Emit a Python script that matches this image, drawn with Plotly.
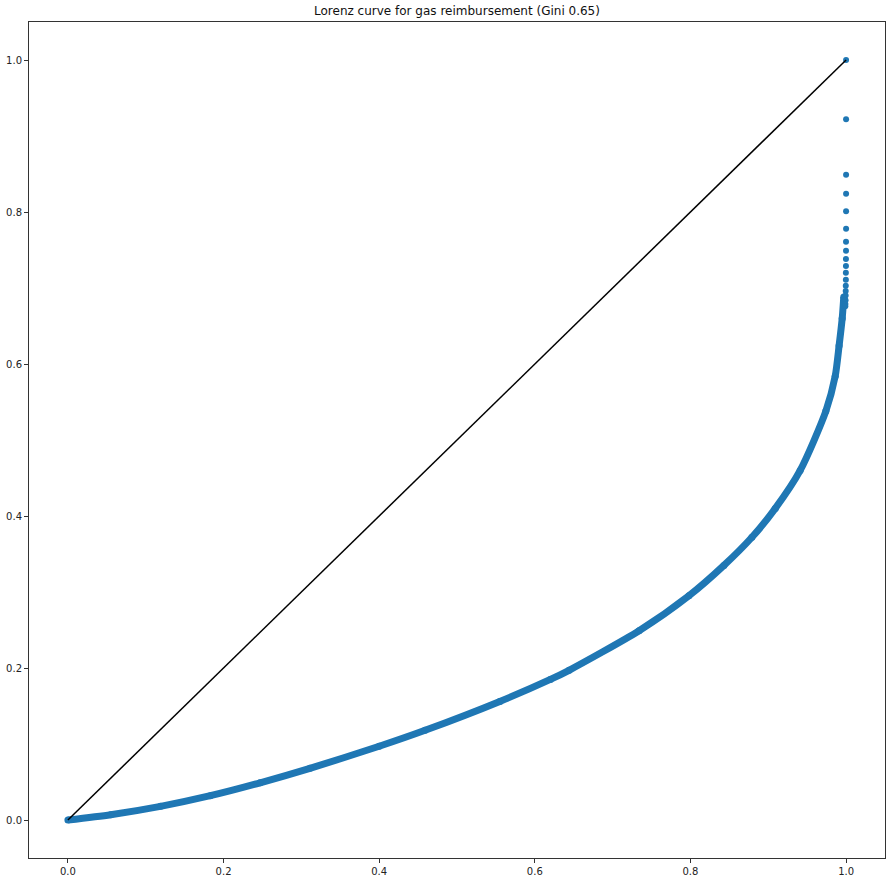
import plotly.graph_objects as go

# Lorenz curve (main dense body)
curve_x = [0.0, 0.055, 0.119, 0.183, 0.247, 0.311, 0.400, 0.459, 0.555, 0.620,
           0.644, 0.734, 0.798, 0.843, 0.879, 0.909, 0.941, 0.974, 0.986, 0.991,
           0.995, 0.997]
curve_y = [0.0, 0.007, 0.018, 0.032, 0.049, 0.068, 0.097, 0.118, 0.156, 0.185,
           0.197, 0.249, 0.295, 0.335, 0.372, 0.410, 0.460, 0.538, 0.584, 0.624,
           0.660, 0.688]

# Sparse top tail points near x = 1
tail_x = [1.0, 1.0, 1.0, 1.0, 1.0, 1.0, 0.9999, 0.9999, 0.9998, 0.9998,
          0.9997, 0.9997, 0.9996, 0.9995, 0.9994, 0.9993, 0.9991, 0.999]
tail_y = [1.0, 0.922, 0.849, 0.824, 0.801, 0.778, 0.761, 0.749, 0.738, 0.729,
          0.720, 0.711, 0.703, 0.696, 0.690, 0.684, 0.679, 0.676]

# Line of equality
eq_x = [0.0, 1.0]
eq_y = [0.0, 1.0]

title = "Lorenz curve for gas reimbursement (Gini 0.65)"
ticks = [0.0, 0.2, 0.4, 0.6, 0.8, 1.0]
tick_text = ["0.0", "0.2", "0.4", "0.6", "0.8", "1.0"]

blue = "#1f77b4"

fig = go.Figure()
fig.add_trace(go.Scatter(x=curve_x, y=curve_y, mode="lines+markers",
                         line=dict(color=blue, width=7, shape="spline", smoothing=0.7),
                         marker=dict(color=blue, size=7, line=dict(width=0)),
                         showlegend=False, hoverinfo="skip"))
fig.add_trace(go.Scatter(x=tail_x, y=tail_y, mode="markers",
                         marker=dict(color=blue, size=6, line=dict(width=0)),
                         showlegend=False))
fig.add_trace(go.Scatter(x=eq_x, y=eq_y, mode="lines",
                         line=dict(color="black", width=1.5),
                         showlegend=False))

axis_common = dict(range=[-0.05, 1.05], showgrid=False, zeroline=False,
                   showline=True, mirror=True, linecolor="#333333", linewidth=1,
                   ticks="outside", ticklen=4, tickwidth=1, tickcolor="#333333",
                   tickvals=ticks, ticktext=tick_text, automargin=False,
                   tickfont=dict(family="DejaVu Sans", size=10, color="#222222"))

fig.update_layout(
    width=895, height=887,
    margin=dict(l=29, r=10, t=22, b=29),
    paper_bgcolor="white", plot_bgcolor="white",
    title=dict(text=title, x=0.5, xref="paper", xanchor="center",
               y=1 - 10.5 / 887, yref="container", yanchor="middle",
               automargin=False,
               font=dict(family="DejaVu Sans", size=12, color="#111111")),
    xaxis=axis_common, yaxis=axis_common,
)

fig.write_html("out.html",
               config={"displayModeBar": False},
               post_script="document.body.style.margin='0';document.body.style.padding='0';")
